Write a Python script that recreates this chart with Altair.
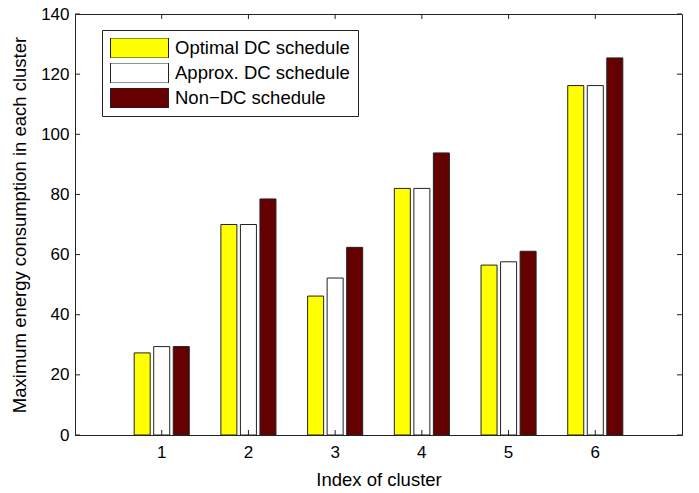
import altair as alt
import pandas as pd

# Cluster indices and the three schedules compared
clusters = ["1", "2", "3", "4", "5", "6"]
series_names = ["Optimal DC schedule", "Approx. DC schedule", "Non\u2212DC schedule"]
optimal_dc = [27.3, 70.0, 46.2, 82.0, 56.5, 116.2]
approx_dc = [29.4, 70.0, 52.2, 82.0, 57.6, 116.2]
non_dc = [29.4, 78.5, 62.4, 93.8, 61.1, 125.4]
series_colors = ["#FFFF00", "#FFFFFF", "#640000"]
y_ticks = [0, 20, 40, 60, 80, 100, 120, 140]

rows = []
for name, vals in zip(series_names, [optimal_dc, approx_dc, non_dc]):
    for c, v in zip(clusters, vals):
        rows.append({"cluster": c, "series": name, "value": v})
df = pd.DataFrame(rows)

W, H = 607, 421
FONT = "Liberation Sans"
FS = 17
TFS = 18.5

x_scale = alt.Scale(domain=clusters, paddingInner=0, paddingOuter=0.5)
y_scale = alt.Scale(domain=[0, 140], nice=False)

# rectangular legend swatch (unit box -1..1, flattened)
swatch = "M-1,-0.345H1V0.345H-1Z"

bars = alt.Chart(df).mark_bar(stroke="#222222", strokeWidth=1).encode(
    x=alt.X("cluster:N", scale=x_scale, sort=clusters,
            axis=alt.Axis(title="Index of cluster", labelAngle=0, ticks=False,
                          labelPadding=9, titlePadding=10)),
    xOffset=alt.XOffset("series:N", sort=series_names,
                        scale=alt.Scale(paddingInner=0.18, paddingOuter=0.81)),
    y=alt.Y("value:Q", scale=y_scale,
            axis=alt.Axis(title="Maximum energy consumption in each cluster",
                          values=y_ticks, ticks=False, grid=False,
                          labelPadding=6, titlePadding=11)),
    fill=alt.Fill("series:N", sort=series_names,
                  scale=alt.Scale(domain=series_names, range=series_colors),
                  legend=alt.Legend(title=None, orient="none", legendX=27, legendY=16,
                                    symbolType=swatch, symbolSize=3364,
                                    symbolStrokeColor="#222222", symbolStrokeWidth=1,
                                    symbolOpacity=1, clipHeight=20,
                                    labelFontSize=TFS, labelFont=FONT, labelColor="black",
                                    labelOffset=6, labelLimit=400, rowPadding=5, padding=8,
                                    strokeColor="#222222", fillColor="white")),
)

ytick_df = pd.DataFrame({"v": y_ticks})
left_ticks = alt.Chart(ytick_df).mark_rule(color="#222222").encode(
    y=alt.Y("v:Q", scale=y_scale), x=alt.value(0), x2=alt.value(5))
right_ticks = alt.Chart(ytick_df).mark_rule(color="#222222").encode(
    y=alt.Y("v:Q", scale=y_scale), x=alt.value(W - 5), x2=alt.value(W))

xtick_df = pd.DataFrame({"cluster": clusters})
bottom_ticks = alt.Chart(xtick_df).mark_rule(color="#222222").encode(
    x=alt.X("cluster:N", scale=x_scale, sort=clusters), y=alt.value(H - 5), y2=alt.value(H))
top_ticks = alt.Chart(xtick_df).mark_rule(color="#222222").encode(
    x=alt.X("cluster:N", scale=x_scale, sort=clusters), y=alt.value(0), y2=alt.value(5))

chart = alt.layer(bars, left_ticks, right_ticks, bottom_ticks, top_ticks).properties(
    width=W, height=H,
    autosize=alt.AutoSizeParams(type="none"),
    padding={"left": 75, "top": 14, "right": 17, "bottom": 58},
    background="white",
).configure_view(
    stroke="#222222", strokeWidth=1
).configure_axis(
    domainColor="#222222", labelFont=FONT, titleFont=FONT, labelFontSize=FS,
    titleFontSize=TFS, labelColor="black", titleColor="black", titleFontWeight="normal",
    grid=False
)

chart.save("out.html", embed_options={"renderer": "svg", "actions": False})
